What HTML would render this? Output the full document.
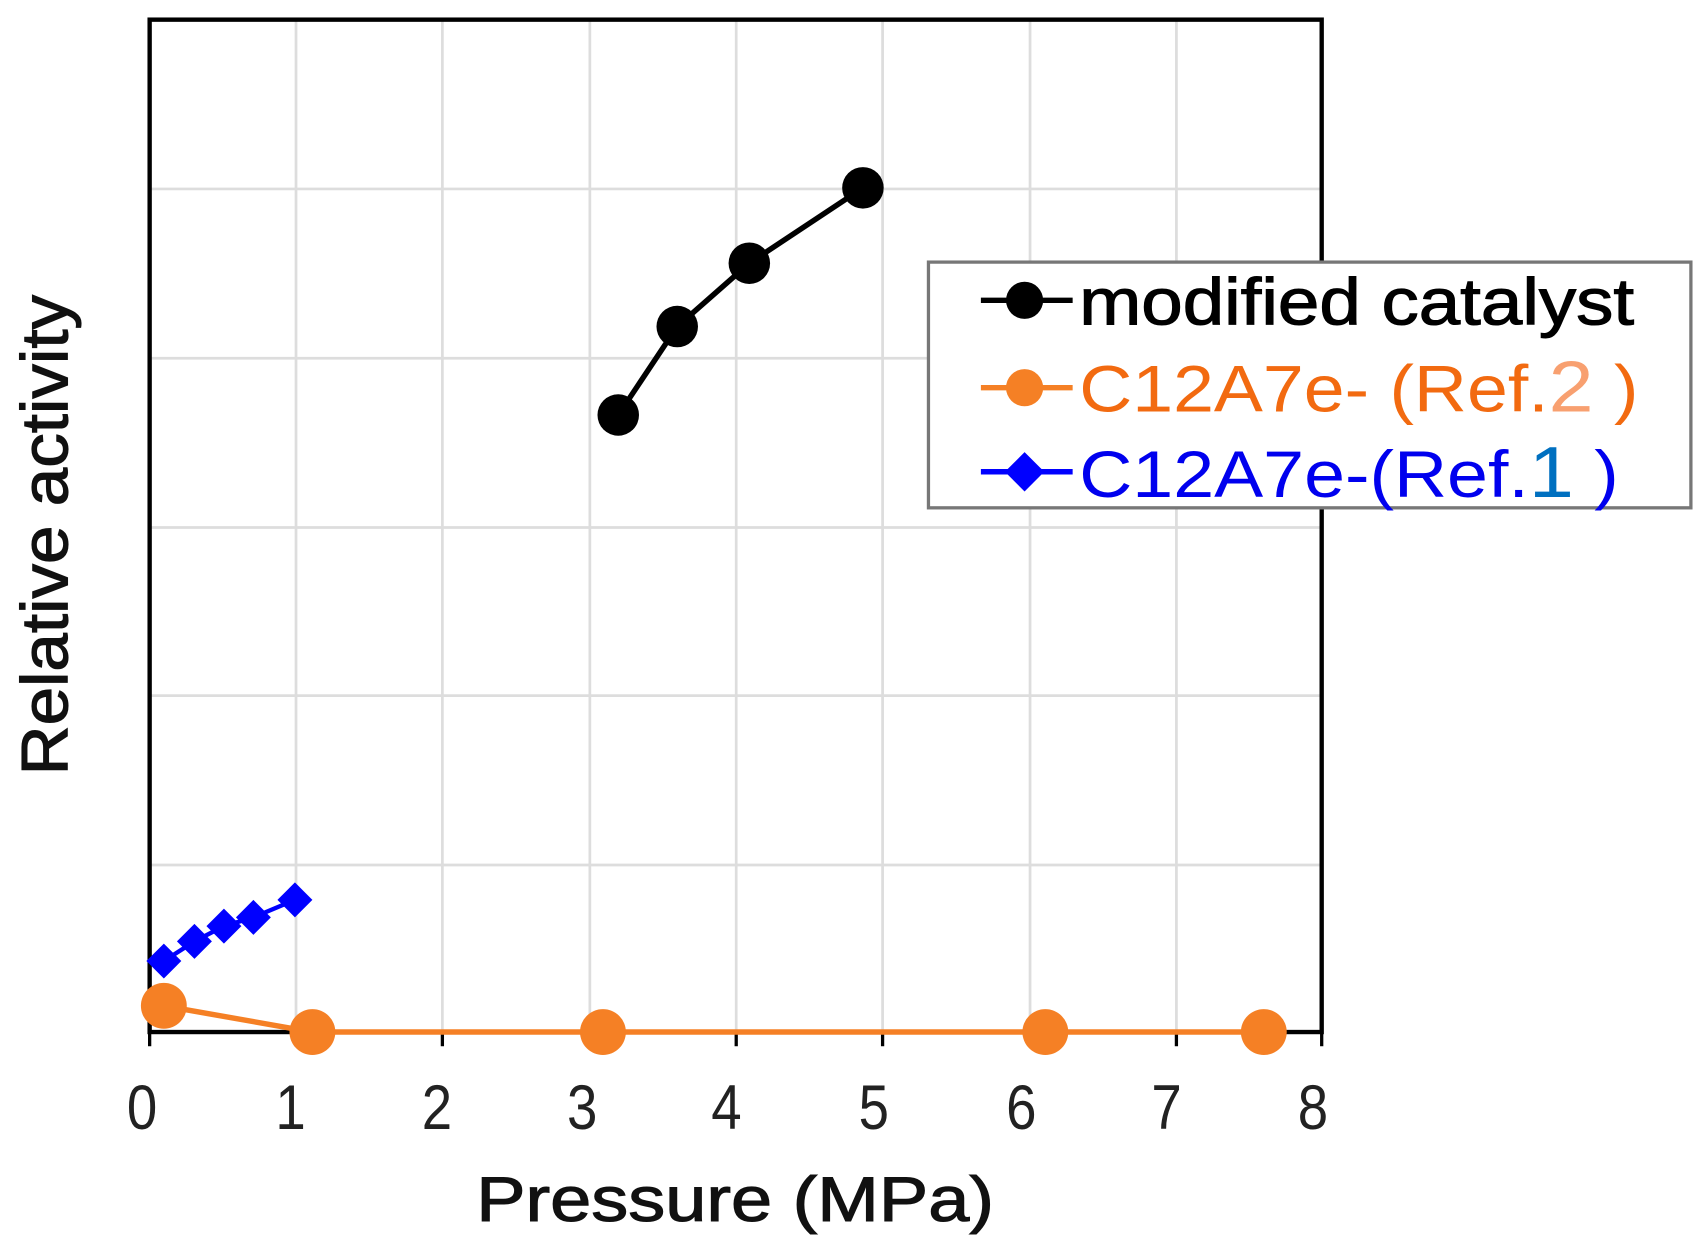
<!DOCTYPE html>
<html><head><style>html,body{margin:0;padding:0;background:#fff}svg{display:block}</style></head>
<body>
<svg width="1704" height="1245" viewBox="0 0 1560 1140" preserveAspectRatio="none" xmlns="http://www.w3.org/2000/svg" font-family="Liberation Sans, sans-serif">
<rect width="1560" height="1140" fill="#fff"/>
<g stroke="#ddd" stroke-width="2.5">
<line x1="271" y1="18" x2="271" y2="945"/><line x1="405" y1="18" x2="405" y2="945"/><line x1="540" y1="18" x2="540" y2="945"/><line x1="674" y1="18" x2="674" y2="945"/><line x1="808" y1="18" x2="808" y2="945"/><line x1="943" y1="18" x2="943" y2="945"/><line x1="1077" y1="18" x2="1077" y2="945"/>
<line x1="137" y1="173" x2="1210" y2="173"/><line x1="137" y1="328" x2="1210" y2="328"/><line x1="137" y1="483" x2="1210" y2="483"/><line x1="137" y1="637" x2="1210" y2="637"/><line x1="137" y1="792" x2="1210" y2="792"/>
</g>
<rect x="137" y="18" width="1073" height="927" fill="none" stroke="#000" stroke-width="4"/>
<g stroke="#000" stroke-width="3">
<line x1="137" y1="945" x2="137" y2="958"/><line x1="271" y1="945" x2="271" y2="958"/><line x1="405" y1="945" x2="405" y2="958"/><line x1="540" y1="945" x2="540" y2="958"/><line x1="674" y1="945" x2="674" y2="958"/><line x1="808" y1="945" x2="808" y2="958"/><line x1="943" y1="945" x2="943" y2="958"/><line x1="1077" y1="945" x2="1077" y2="958"/><line x1="1210" y1="945" x2="1210" y2="958"/>
</g>
<g font-size="50" fill="#222" text-anchor="middle" transform="translate(0,1034) scale(1,1.15)">
<text x="130" y="0">0</text><text x="266" y="0">1</text><text x="400" y="0">2</text><text x="533" y="0">3</text><text x="665" y="0">4</text><text x="800" y="0">5</text><text x="935" y="0">6</text><text x="1068" y="0">7</text><text x="1202" y="0">8</text>
</g>
<text x="436" y="1118" font-size="58" fill="#111" stroke="#111" stroke-width="1" textLength="474" lengthAdjust="spacingAndGlyphs">Pressure (MPa)</text>
<text transform="translate(62,490) rotate(-90)" font-size="60" text-anchor="middle" fill="#111" stroke="#111" stroke-width="1" textLength="440" lengthAdjust="spacingAndGlyphs">Relative activity</text>
<polyline points="150,921 286,945 552,945 957,945 1157,945" fill="none" stroke="#f58025" stroke-width="5"/>
<g fill="#f58025"><circle cx="150" cy="921" r="21"/><circle cx="286" cy="945" r="21"/><circle cx="552" cy="945" r="21"/><circle cx="957" cy="945" r="21"/><circle cx="1157" cy="945" r="21"/></g>
<polyline points="150,880 178,862 205,848 232,840 270,824" fill="none" stroke="#0000ff" stroke-width="4"/>
<g fill="#0000ff">
<path d="M150 864 L166 880 L150 896 L134 880Z"/><path d="M178 846 L194 862 L178 878 L162 862Z"/><path d="M205 832 L221 848 L205 864 L189 848Z"/><path d="M232 824 L248 840 L232 856 L216 840Z"/><path d="M270 808 L286 824 L270 840 L254 824Z"/>
</g>
<polyline points="566,380 620,299 686,241 790,172" fill="none" stroke="#000" stroke-width="5"/>
<g fill="#000"><circle cx="566" cy="380" r="19"/><circle cx="620" cy="299" r="19"/><circle cx="686" cy="241" r="19"/><circle cx="790" cy="172" r="19"/></g>
<rect x="850" y="240" width="698" height="225" fill="#fff" stroke="#777" stroke-width="3"/>
<line x1="898" y1="275" x2="982" y2="275" stroke="#000" stroke-width="5"/><circle cx="938" cy="275" r="17" fill="#000"/>
<line x1="898" y1="355" x2="982" y2="355" stroke="#f58025" stroke-width="5"/><circle cx="938" cy="355" r="17" fill="#f58025"/>
<line x1="898" y1="432" x2="982" y2="432" stroke="#0000ff" stroke-width="5"/><path d="M938 414 L956 432 L938 450 L920 432Z" fill="#0000ff"/>
<text x="988" y="297" font-size="60" fill="#000" stroke="#000" stroke-width="1" textLength="508" lengthAdjust="spacingAndGlyphs">modified catalyst</text>
<text x="988" y="377" font-size="60" fill="#f26a10" textLength="512" lengthAdjust="spacingAndGlyphs">C12A7e- (Ref.<tspan fill="#f8a070" font-size="66">2</tspan> )</text>
<text x="988" y="455" font-size="60" fill="#0000ee" textLength="494" lengthAdjust="spacingAndGlyphs">C12A7e-(Ref.<tspan fill="#0070c0" font-size="66">1</tspan> )</text>
</svg>
</body></html>
